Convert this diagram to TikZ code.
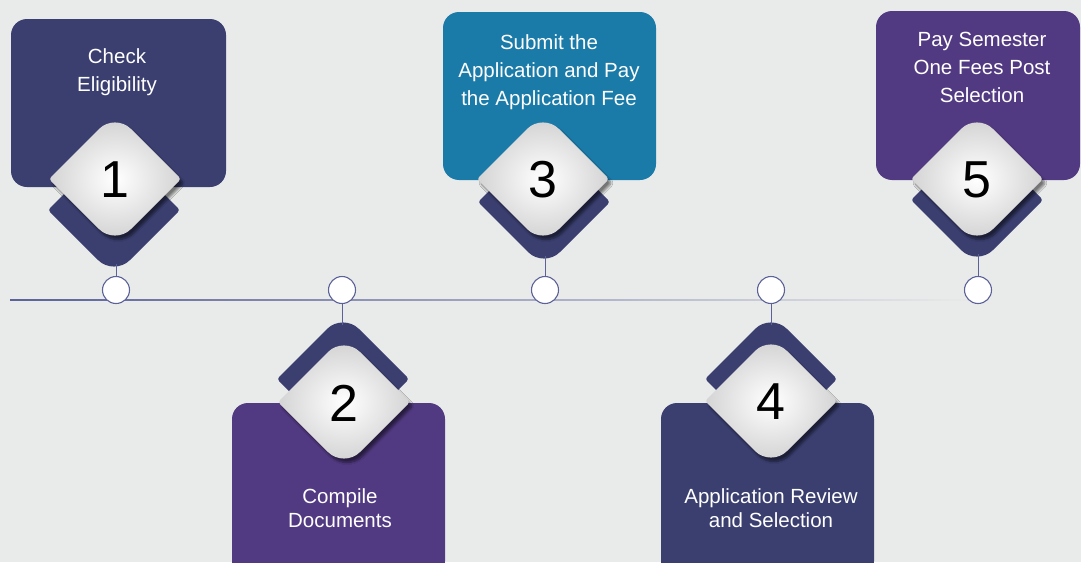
\documentclass[tikz,border=0pt]{standalone}
\usepackage{fontspec}
\setmainfont{Liberation Sans}
\usetikzlibrary{shadows.blur}

\definecolor{bgcol}{HTML}{E9EBEA}
\definecolor{navy}{HTML}{3A3F70}
\definecolor{plum}{HTML}{523A82}
\definecolor{sea}{HTML}{1A7AA8}
\definecolor{linecol}{HTML}{5C6198}

% rounded diamond, sharp at the sides and round at top and bottom
\newcommand{\diampath}[2]{({#1-66},#2) -- ({#1-18},{#2-48}) .. controls ({#1-7.3},{#2-58.7}) and ({#1+7.3},{#2-58.7}) .. ({#1+18},{#2-48}) -- ({#1+66},#2) -- ({#1+18},{#2+48}) .. controls ({#1+7.3},{#2+58.7}) and ({#1-7.3},{#2+58.7}) .. ({#1-18},{#2+48}) -- cycle}

\tikzset{
    stepbox/.style={rounded corners=16pt, inner sep=0pt},
    dot/.style={circle, draw=linecol, fill=white, line width=1.1pt, minimum size=27pt, inner sep=0pt},
    toptext/.style={text=white, font=\fontsize{20.5}{28}\selectfont, align=center},
    lowtext/.style={text=white, font=\fontsize{20.5}{24}\selectfont, align=center},
    stepnum/.style={font=\fontsize{52}{52}\selectfont, text=black, inner sep=0pt},
    knob/.style={rounded corners=3pt, shading=radial, inner color=white, outer color=black!17,
        blur shadow={shadow xshift=3pt, shadow yshift=-4pt, shadow blur steps=8, shadow opacity=50}},
}

\begin{document}
\begin{tikzpicture}[x=1pt, y=-1pt]
            \useasboundingbox (0, 0) rectangle (1081, 562);
            \fill[bgcol] (0, 0) rectangle (1081, 562);

            % time line
            \coordinate (tlstart) at (10, 299.2);
            \coordinate (tlend) at (978, 300.8);
            \shade[left color=linecol, middle color=linecol!65!bgcol, right color=bgcol] (tlstart) rectangle (tlend);

            % dark chevrons behind the cards
            \foreach \x/\y in {114/210, 544/202, 977/200, 343/379, 771/379}{
                \fill[navy, rounded corners=3pt] \diampath{\x}{\y};
            }
            \coordinate (d1) at (114, 264);
            \coordinate (d3) at (544, 256);
            \coordinate (d5) at (977, 254);
            \coordinate (d2) at (343, 325);
            \coordinate (d4) at (771, 325);

            \foreach \i/\x in {1/116, 2/342, 3/545, 4/771, 5/978}{
                \node[dot] (c\i) at (\x, 290) {};
            }
            \foreach \i in {1, 3, 5}{
                \draw[linecol, line width=1pt] (c\i.north) to (c\i.north |- d\i);
            }
            \foreach \i in {2, 4}{
                \draw[linecol, line width=1pt] (c\i.south) to (c\i.south |- d\i);
            }

            % cards
            \node[stepbox, fill=navy, minimum width=215, minimum height=168] (box1) at (118.5, 103) {};
            \node[stepbox, fill=sea, minimum width=213, minimum height=168] (box3) at (549.5, 96) {};
            \node[stepbox, fill=plum, minimum width=204, minimum height=169] (box5) at (978, 95.5) {};
            \node[stepbox, fill=plum, minimum width=213, minimum height=174] (box2) at (338.5, 490) {};
            \node[stepbox, fill=navy, minimum width=213, minimum height=174] (box4) at (767.5, 490) {};

            \node[toptext] (t1) at (117, 72) {Check\\Eligibility};
            \node[toptext] (t3) at (549, 72) {Submit the\\Application and Pay\\the Application Fee};
            \node[toptext] (t5) at (982, 67) {Pay Semester\\One Fees Post\\Selection};
            \node[lowtext] (t2) at (340, 508) {Compile\\Documents};
            \node[lowtext] (t4) at (771, 508) {Application Review\\and Selection};

            % white numbered diamonds
            \foreach \i/\x/\y in {1/115/179, 2/344/402, 3/543/179, 4/771/401, 5/977/179}{
                \path[knob] \diampath{\x}{\y};
                \node[stepnum] (n\i) at (\x, {\y+1}) {\i};
            }
\end{tikzpicture}
\end{document}
